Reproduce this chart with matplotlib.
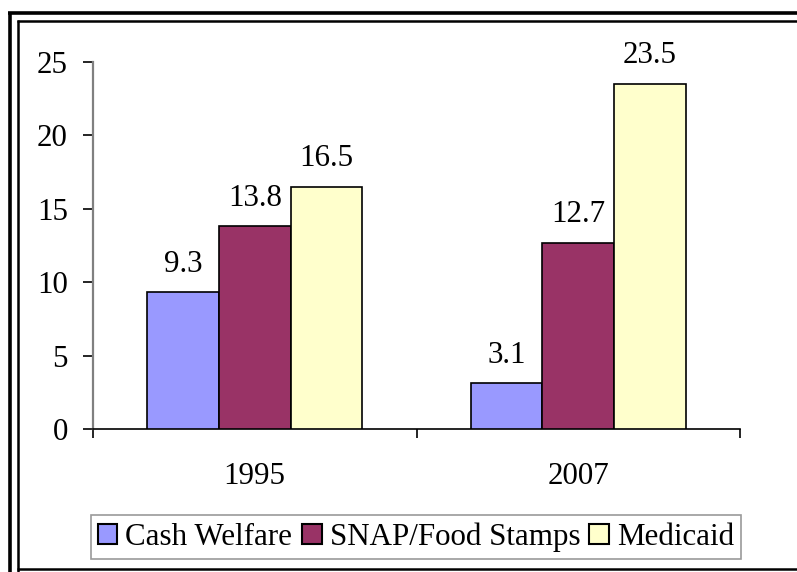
import matplotlib
matplotlib.use("Agg")
import matplotlib.pyplot as plt
import numpy as np
from matplotlib.lines import Line2D
from matplotlib.patches import Patch

plt.rcParams['font.family'] = ['Liberation Serif', 'DejaVu Serif']

years = ["1995", "2007"]
series_names = ["Cash Welfare", "SNAP/Food Stamps", "Medicaid"]
cash_welfare = [9.3, 3.1]
snap = [13.8, 12.7]
medicaid = [16.5, 23.5]
colors = ["#9999FF", "#993366", "#FFFFCC"]
yticks = [0, 5, 10, 15, 20, 25]

FS = 22.3
W, H = 797, 572
fig = plt.figure(figsize=(W / 100, H / 100), dpi=100)
ax = fig.add_axes([93 / W, 1 - 429 / H, (740 - 93) / W, (429 - 62) / H])

x = np.arange(len(years))
bw = 0.222
values = [cash_welfare, snap, medicaid]
for i, (vals, c) in enumerate(zip(values, colors)):
    pos = x + (i - 1) * bw
    ax.bar(pos, vals, width=bw, color=c, edgecolor="black", linewidth=1.2, zorder=3)
    for xp, v in zip(pos, vals):
        ax.annotate(f"{v}", (xp, v), xytext=(0, 15), textcoords="offset points",
                    ha="center", va="baseline", fontsize=FS)

ax.set_xlim(-0.5, len(years) - 0.5)
ax.set_ylim(0, 25)
ax.set_yticks(yticks)
ax.set_yticklabels([str(t) for t in yticks], fontsize=FS)
ax.tick_params(axis="y", direction="out", length=7, width=1.2, color="black", pad=11)

# category boundaries as major ticks, labels as minor ticks at centers
ax.set_xticks(np.arange(-0.5, len(years), 1.0))
ax.set_xticklabels([])
ax.tick_params(axis="x", which="major", direction="out", length=6.5, width=1.2, color="black")
ax.set_xticks(x, minor=True)
ax.set_xticklabels(years, minor=True, fontsize=FS)
ax.tick_params(axis="x", which="minor", length=0, pad=23.5)

for s in ["top", "right"]:
    ax.spines[s].set_visible(False)
ax.spines["left"].set_color("#808080")
ax.spines["left"].set_linewidth(1.6)
ax.spines["bottom"].set_color("black")
ax.spines["bottom"].set_linewidth(1.2)

handles = [Patch(facecolor=c, edgecolor="black", linewidth=1.5) for c in colors]
leg = fig.legend(handles, series_names, loc="center", bbox_to_anchor=(416 / W, 1 - 537 / H),
                 ncol=3, fontsize=FS, frameon=True, fancybox=False, edgecolor="#808080",
                 handlelength=0.64, handleheight=0.64, handletextpad=0.26, columnspacing=0.3,
                 borderpad=0.22, borderaxespad=0)
leg.get_frame().set_linewidth(1.2)


def fline(xs, ys, lw):
    fig.add_artist(Line2D([xs[0] / W, xs[1] / W], [1 - ys[0] / H, 1 - ys[1] / H],
                          color="black", linewidth=lw, transform=fig.transFigure,
                          solid_capstyle="butt"))


# decorative double border
fline([8, W], [13, 13], 2.6)
fline([9.5, 9.5], [11.5, H], 2.6)
fline([17, W], [20.5, 20.5], 1.8)
fline([18, 18], [19.5, H], 1.8)
fline([17, W], [568.5, 568.5], 1.8)

fig.savefig("out.png", dpi=100)
